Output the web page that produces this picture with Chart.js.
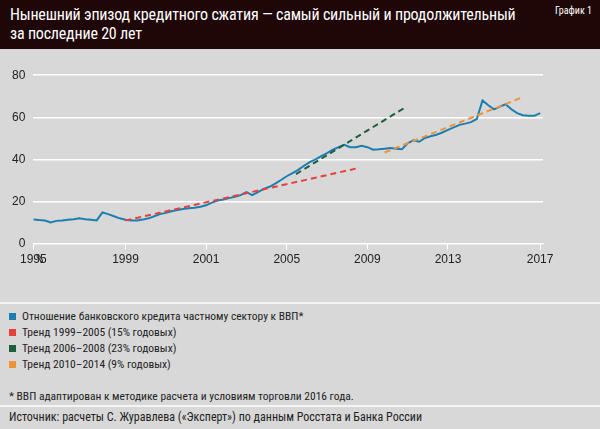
<!DOCTYPE html>
<html><head><meta charset="utf-8">
<script src="https://cdn.jsdelivr.net/npm/chart.js@4/dist/chart.umd.min.js"></script>
<style>
body{margin:0;width:600px;height:429px;background:#d8d8d8;font-family:"Liberation Sans Narrow","Roboto Condensed",Roboto,sans-serif;position:relative;overflow:hidden;color:#222}
#head{position:absolute;left:0;top:0;width:600px;height:49px;background:#1f0707;color:#fff}
#title{position:absolute;left:10px;top:5px;font-size:16px;line-height:19px;letter-spacing:-0.2px}
#tag{position:absolute;right:8px;top:5px;font-size:10px}
#wrap{position:absolute;left:0;top:60px;width:600px;height:210px}
#pct{position:absolute;left:36px;top:252px;font-size:12px}
.sep{position:absolute;left:0;width:600px;height:2px;background:#f4f4f4}
#legend{position:absolute;left:9px;top:308px;font-size:11.5px;line-height:16px}
#legend div span{display:inline-block;width:7px;height:7px;margin-right:6px}
#note{position:absolute;left:9px;top:389px;font-size:11.5px}
#src{position:absolute;left:9px;top:410px;font-size:12px}
</style></head><body>
<div id="head"><div id="title">Нынешний эпизод кредитного сжатия — самый сильный и продолжительный<br>за последние 20 лет</div><div id="tag">График 1</div></div>
<div id="wrap"><canvas id="c" width="600" height="210"></canvas></div>
<div id="pct">%</div>
<div class="sep" style="top:302px"></div>
<div id="legend">
<div><span style="background:#1a7fb0"></span>Отношение банковского кредита частному сектору к ВВП*</div>
<div><span style="background:#e8413c"></span>Тренд 1999–2005 (15% годовых)</div>
<div><span style="background:#1d5e3c"></span>Тренд 2006–2008 (23% годовых)</div>
<div><span style="background:#f0923a"></span>Тренд 2010–2014 (9% годовых)</div>
</div>
<div id="note">* ВВП адаптирован к методике расчета и условиям торговли 2016 года.</div>
<div class="sep" style="top:405px"></div>
<div id="src">Источник: расчеты С. Журавлева («Эксперт») по данным Росстата и Банка России</div>
<script>
// quarterly points, index 0 = first quarter shown
const credit = [11.5,11.2,11,10,10.8,11,11.3,11.6,12,11.6,11.3,11,14.8,14,13,12,11.3,11,11,11.4,12,13,14,14.6,15.4,16,16.4,16.8,17,17.5,18.2,19.5,20.5,21,21.6,22.3,23,24.5,23,24.5,26,27,28.5,30.2,32,33.5,35,37,38.7,40,41.5,43,44.6,45.8,46.9,45.8,45.8,46.5,45.8,44.6,44.8,45.1,45.4,45.1,44.8,47.6,49.1,48.4,50.2,51,51.7,52.8,54,55.2,56.4,57,57.7,59.2,68,65.7,63.8,65.1,66.2,63.8,62,61,60.7,60.7,62];
const trend9905 = [[16,11],[56.6,36]];
const trend0608 = [[45.6,33],[64.4,64.4]];
const trend1014 = [[61,43.3],[84.8,69.4]];
const tickLabels = {0:'1995',16:'1999',30:'2001',44:'2005',58:'2009',72:'2013',88:'2017'};
const yTicks = [0,20,40,60,80];

const pts = a => a.map(([x,y]) => ({x,y}));
const dash = (data,color) => ({data:pts(data),borderColor:color,borderWidth:2,borderDash:[6,4],pointRadius:0});
new Chart(document.getElementById('c'),{
  type:'line',
  data:{datasets:[
    dash(trend9905,'#e8413c'),
    dash(trend0608,'#1d5e3c'),
    dash(trend1014,'#f0923a'),
    {data:credit.map((y,x)=>({x,y})),borderColor:'#1a7fb0',borderWidth:2,pointRadius:0,tension:0}
  ]},
  options:{
    responsive:false,animation:false,
    layout:{padding:{left:4,right:57,top:10,bottom:0}},
    plugins:{legend:{display:false},tooltip:{enabled:false}},
    scales:{
      x:{type:'linear',min:0,max:88.5,
        afterBuildTicks:ax=>{ax.ticks=Object.keys(tickLabels).map(v=>({value:+v}));},
        ticks:{callback:v=>tickLabels[v],color:'#222',font:{size:12},maxRotation:0,autoSkip:false},
        grid:{display:true,drawOnChartArea:false,color:'#fff',tickLength:6},
        border:{color:'#fff'}},
      y:{min:0,max:80,
        afterBuildTicks:ax=>{ax.ticks=yTicks.map(v=>({value:v}));},
        ticks:{color:'#222',font:{size:12},padding:8},
        grid:{color:'#fff',lineWidth:1.5,drawTicks:false},
        border:{display:false}}
    }
  }
});
</script>
</body></html>
